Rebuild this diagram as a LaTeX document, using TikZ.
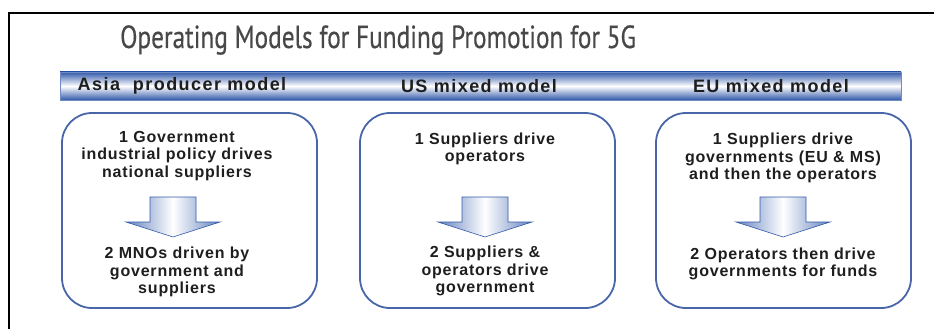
\documentclass[tikz,border=0pt]{standalone}
\usepackage{fontspec}
\setmainfont{Liberation Sans}
\newfontfamily\titlefont[FakeStretch=0.79,FakeBold=0.4]{PT Sans}
\newfontfamily\headfont[LetterSpace=8]{Liberation Sans}
\newfontfamily\boxfont[LetterSpace=5]{Liberation Sans}
\usetikzlibrary{positioning}
\definecolor{barblue}{RGB}{50,90,170}
\definecolor{boxblue}{RGB}{72,102,168}
\definecolor{titlegray}{RGB}{72,72,72}
\definecolor{textgray}{RGB}{30,30,30}
% block arrow pointing down, #1 = top centre
\newcommand{\blockarrow}[1]{%
  \path[left color=barblue!75, right color=barblue!75, middle color=white, draw=barblue, line width=0.6pt]
    (#1) ++(-23,0) -- ++(46,0) -- ++(0,25) -- ++(24,0) -- ++(-47,15) -- ++(-47,-15) -- ++(24,0) -- cycle;}

\begin{document}
\begin{tikzpicture}[x=1pt,y=-1pt,
    bar/.style = {minimum width=841pt, minimum height=28pt, inner sep=0pt, draw=barblue!70, line width=0.5pt,
                  top color=barblue, bottom color=barblue, middle color=white},
    head/.style = {font=\headfont\bfseries\fontsize{18}{20}\selectfont, text=textgray, inner sep=0pt},
    model/.style = {minimum width=255pt, minimum height=195pt, draw=boxblue, line width=1.8pt, rounded corners=30pt},
    txt/.style = {align=center, font=\boxfont\bfseries\fontsize{16}{17.5}\selectfont, text=textgray, inner sep=0pt}]
    \useasboundingbox (0,0) rectangle (934,329);
    \draw[line width=1.8pt] (9,329) -- (9,13) -- (934,13);
    \node[anchor=west, text=titlegray, inner sep=0pt, font=\titlefont\fontsize{32}{36}\selectfont] (title) at (120,40)
        {Operating Models for Funding Promotion for 5G};

    \node[bar] (band) at (480.5,86) {};
    \node[head] (h1) at (182,86) {Asia\ \ producer model};
    \node[head] (h2) at (479,86) {US mixed model};
    \node[head] (h3) at (771,86) {EU mixed model};

    \node[model] (b1) at (189.5,210.5) {};
    \node[model] (b2) at (487.5,210.5) {};
    \node[model] (b3) at (783.5,210.5) {};

    \node[txt] (t1) at (177,156) {1 Government\\industrial policy drives\\national suppliers};
    \node[txt] (u1) at (177,272) {2 MNOs driven by\\government and\\suppliers};
    \node[txt] (t2) at (485,149) {1 Suppliers drive\\operators};
    \node[txt] (u2) at (485,271) {2 Suppliers \&\\operators drive\\government};
    \node[txt] (t3) at (783,158) {1 Suppliers drive\\governments (EU \& MS)\\and then the operators};
    \node[txt] (u3) at (783,264) {2 Operators then drive\\governments for funds};

    \coordinate (a1) at (173,197);
    \coordinate (a2) at (485,197);
    \coordinate (a3) at (783,197);
    \blockarrow{a1}
    \blockarrow{a2}
    \blockarrow{a3}
\end{tikzpicture}
\end{document}
